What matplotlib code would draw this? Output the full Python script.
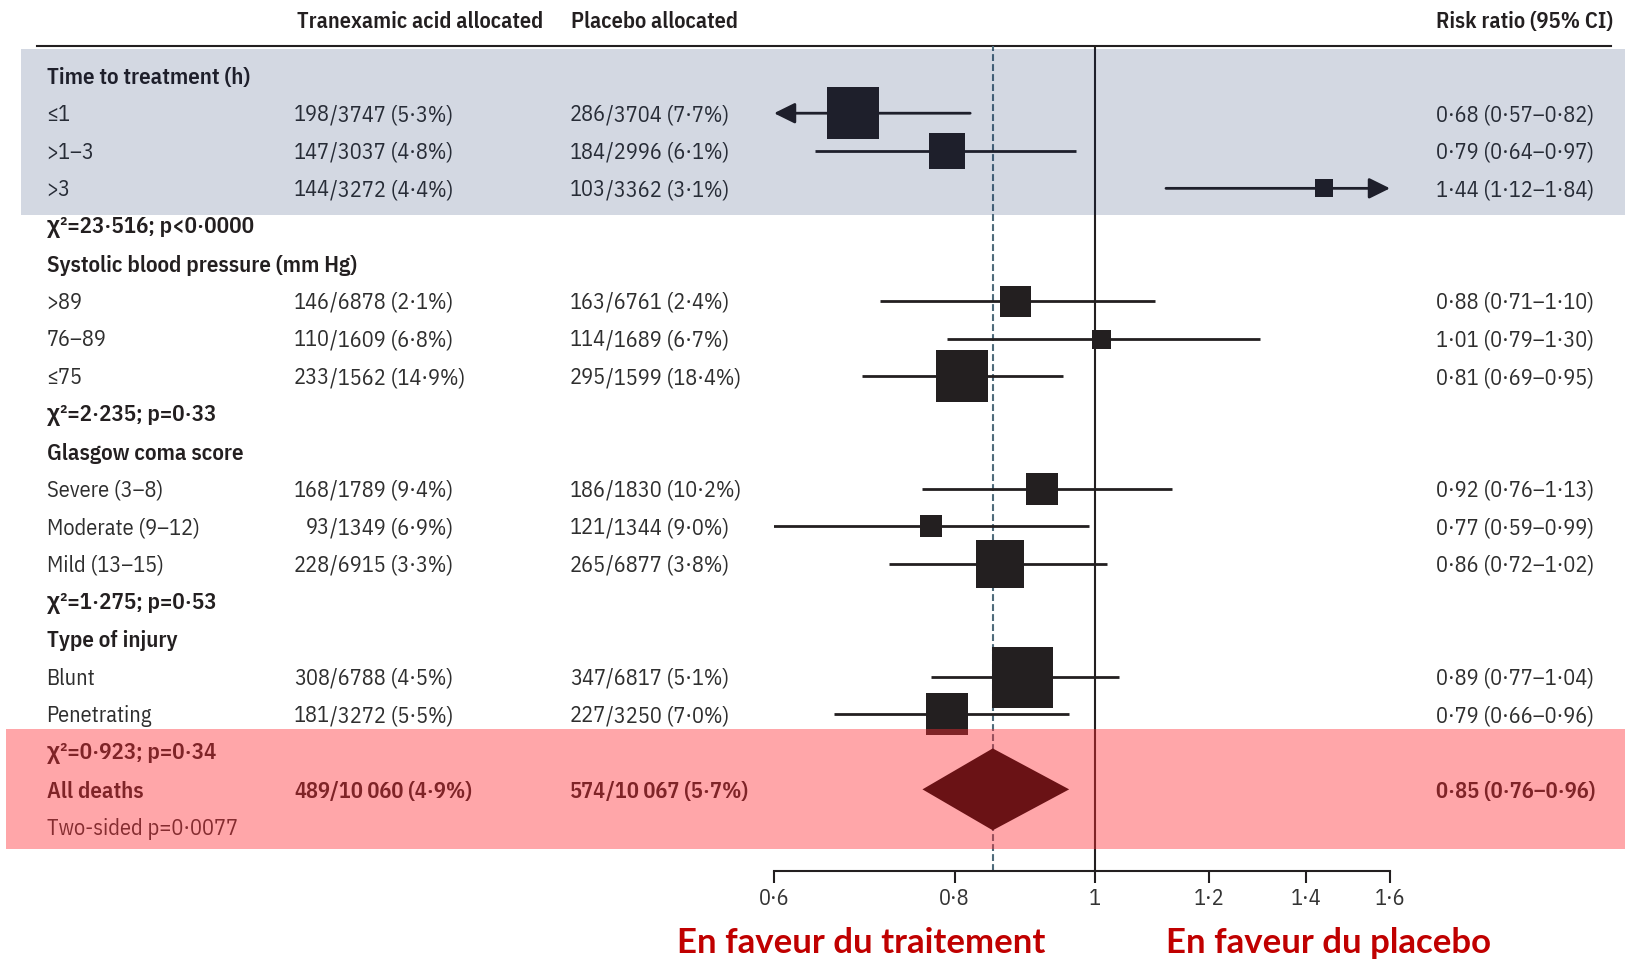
import matplotlib
matplotlib.use("Agg")
import matplotlib.pyplot as plt
from matplotlib import transforms
from matplotlib.patches import Rectangle
from matplotlib.ticker import FixedLocator, FuncFormatter, NullLocator

# subgroup analysis: deaths due to bleeding, tranexamic acid vs placebo
groups = ["Time to treatment (h)", "Systolic blood pressure (mm Hg)",
          "Glasgow coma score", "Type of injury"]
levels = [["≤1", ">1–3", ">3"],
          [">89", "76–89", "≤75"],
          ["Severe (3–8)", "Moderate (9–12)", "Mild (13–15)"],
          ["Blunt", "Penetrating"]]
heterogeneity = ["χ²=23·516; p<0·0000", "χ²=2·235; p=0·33",
                 "χ²=1·275; p=0·53", "χ²=0·923; p=0·34"]

txa_deaths = [198, 147, 144, 146, 110, 233, 168, 93, 228, 308, 181]
txa_n = [3747, 3037, 3272, 6878, 1609, 1562, 1789, 1349, 6915, 6788, 3272]
txa_pct = [5.3, 4.8, 4.4, 2.1, 6.8, 14.9, 9.4, 6.9, 3.3, 4.5, 5.5]
pla_deaths = [286, 184, 103, 163, 114, 295, 186, 121, 265, 347, 227]
pla_n = [3704, 2996, 3362, 6761, 1689, 1599, 1830, 1344, 6877, 6817, 3250]
pla_pct = [7.7, 6.1, 3.1, 2.4, 6.7, 18.4, 10.2, 9.0, 3.8, 5.1, 7.0]
rr = [0.68, 0.79, 1.44, 0.88, 1.01, 0.81, 0.92, 0.77, 0.86, 0.89, 0.79]
rr_lo = [0.57, 0.64, 1.12, 0.71, 0.79, 0.69, 0.76, 0.59, 0.72, 0.77, 0.66]
rr_hi = [0.82, 0.97, 1.84, 1.10, 1.30, 0.95, 1.13, 0.99, 1.02, 1.04, 0.96]

total_label = "All deaths"
total_txa = (489, 10060, 4.9)
total_pla = (574, 10067, 5.7)
total_rr = (0.85, 0.76, 0.96)
total_p = "Two-sided p=0·0077"

ticks = [0.6, 0.8, 1, 1.2, 1.4, 1.6]
arrow_limits = (0.58, 1.7)   # CIs reaching past these end in an arrow

# box side in pixels for each subgroup estimate
box_px = [52, 36, 18, 31, 19, 53, 32, 23, 48, 61, 42]

W, H = 1625, 961
INK = "#231F20"
TEXT = "#2E2E2E"
plt.rcParams["font.family"] = ["IBM Plex Sans Condensed", "Liberation Sans", "DejaVu Sans"]
FS = 16
DY = 0.05   # nudge text down onto the row line


def dot(v, nd=2):
    return f"{v:.{nd}f}".replace(".", "·")


def count(n):
    return f"{n:,}".replace(",", "\u2009") if n >= 10000 else str(n)


fig = plt.figure(figsize=(W / 100, H / 100), dpi=100)
ax = fig.add_axes([774 / W, (H - 870.5) / H, 616 / W, (870.5 - 45.6) / H])
ax.set_xscale("log")
trans = transforms.blended_transform_factory(fig.transFigure, ax.transData)
top, bottom = -0.80, 21.16


def put(xpx, y, s, ha="left", weight="normal", color=TEXT, size=FS):
    ax.text(xpx / W, y + DY, s, transform=trans, ha=ha, va="center",
            fontsize=size, fontweight=weight, color=color)


def counts(xslash, y, d, n, pct, weight="normal", color=TEXT):
    put(xslash, y, str(d), ha="right", weight=weight, color=color)
    put(xslash, y, f"/{count(n)} ({dot(pct, 1)}%)", weight=weight, color=color)


# column headers and rule
put(297, -1.5, "Tranexamic acid allocated", weight="semibold", color=INK)
put(571, -1.5, "Placebo allocated", weight="semibold", color=INK)
put(1436, -1.5, "Risk ratio (95% CI)", weight="semibold", color=INK)
ax.plot([37 / W, 1611 / W], [top, top], transform=trans,
        color=INK, lw=1.5, clip_on=False)

row = 0
k = 0
for g, levs, chi in zip(groups, levels, heterogeneity):
    put(46.6, row, g, weight="semibold", color=INK, size=16.5)
    row += 1
    for lev in levs:
        put(46.6, row, lev)
        counts(330, row, txa_deaths[k], txa_n[k], txa_pct[k])
        counts(606, row, pla_deaths[k], pla_n[k], pla_pct[k])
        put(1436, row, f"{dot(rr[k])} ({dot(rr_lo[k])}–{dot(rr_hi[k])})")

        lo, hi = rr_lo[k], rr_hi[k]
        if lo < arrow_limits[0] or hi > arrow_limits[1]:
            a, b = max(lo, ticks[0]), min(hi, ticks[-1])
            tail, tip = (b, a) if lo < arrow_limits[0] else (a, b)
            ax.annotate("", xy=(tip, row), xytext=(tail, row),
                        arrowprops=dict(arrowstyle="-|>,head_length=0.85,head_width=0.42",
                                        mutation_scale=15, color=INK, lw=2,
                                        shrinkA=0, shrinkB=0),
                        zorder=3, annotation_clip=False)
        else:
            ax.plot([lo, hi], [row, row], color=INK, lw=2, zorder=3,
                    solid_capstyle="butt")
        ax.scatter([rr[k]], [row], marker="s", s=(box_px[k] * 0.72) ** 2,
                   color=INK, linewidths=0, zorder=4)
        row += 1
        k += 1
    put(46.6, row, chi, weight="semibold", color=INK, size=16.5)
    row += 1

# overall result
put(46.6, row, total_label, weight="semibold", color=INK, size=16.5)
counts(330, row, *total_txa, weight="semibold", color=INK)
counts(606, row, *total_pla, weight="semibold", color=INK)
est, lo, hi = total_rr
put(1436, row, f"{dot(est)} ({dot(lo)}–{dot(hi)})", weight="semibold", color=INK)
ax.fill([lo, est, hi, est], [row, row - 1.09, row, row + 1.09],
        color="black", lw=0, zorder=5)
put(46.6, row + 1, total_p)

# reference lines
ax.axvline(1, color=INK, lw=1.5, zorder=1)
ax.axvline(est, color="#4E6B7B", lw=1.5, dashes=(3.3, 1.5), zorder=2)

# tinted bands laid over the first subgroup and the overall result
ax.add_patch(Rectangle((21 / W, -0.716), (W - 21) / W, 4.413, transform=trans,
                       facecolor=(0.03, 0.14, 0.375), alpha=0.175, lw=0,
                       zorder=10, clip_on=False))
ax.add_patch(Rectangle((6 / W, 17.38), (W - 6) / W, 3.21, transform=trans,
                       facecolor=(1.0, 0.17, 0.2), alpha=0.42, lw=0,
                       zorder=10, clip_on=False))

ax.set_xlim(ticks[0], ticks[-1])
ax.set_ylim(bottom, top)
ax.xaxis.set_major_locator(FixedLocator(ticks))
ax.xaxis.set_minor_locator(NullLocator())
ax.xaxis.set_major_formatter(FuncFormatter(lambda v, _: f"{v:g}".replace(".", "·")))
ax.tick_params(axis="x", length=8.3, width=1.5, color=INK, labelsize=FS,
               labelcolor="#333333", pad=4.3)
ax.set_yticks([])
for side in ["top", "left", "right"]:
    ax.spines[side].set_visible(False)
ax.spines["bottom"].set_color(INK)
ax.spines["bottom"].set_linewidth(1.5)
ax.patch.set_alpha(0)

for xpx, s in [(860.7, "En faveur du traitement"), (1328.5, "En faveur du placebo")]:
    fig.text(xpx / W, 1 - 943 / H, s, ha="center", va="center", fontsize=25,
             fontweight="bold", family=["Lato", "DejaVu Sans"], color="#C00000")

fig.savefig("out.png", dpi=100)
